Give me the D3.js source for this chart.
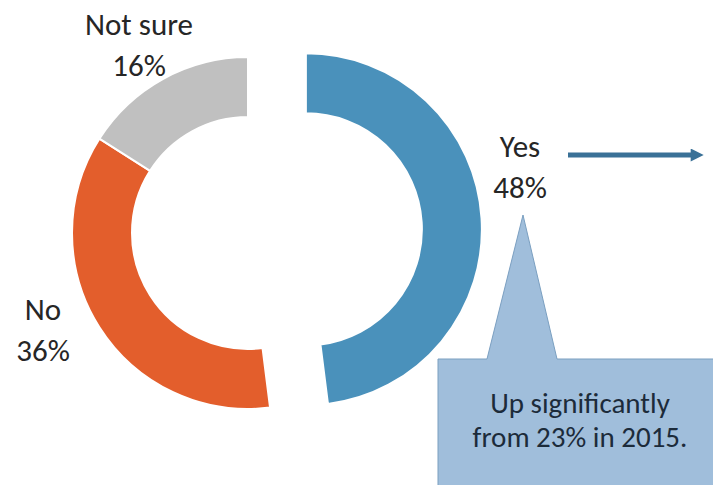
<!DOCTYPE html>
<html lang="en">
<head>
<meta charset="utf-8">
<title>Donut - Yes / No / Not sure</title>
<script src="https://d3js.org/d3.v7.min.js"></script>
<style>
  html, body { margin: 0; padding: 0; background: #fff; }
  svg text { font-family: Carlito, Lato, "Open Sans", sans-serif; }
</style>
</head>
<body>
<svg id="chart" width="713" height="485"></svg>
<script>
// data
var categories = ["Yes", "No", "Not sure"];
var values = [48, 36, 16];
var noteLines = ["Up significantly", "from 23% in 2015."];

var colors = { "Yes": "#4a91bb", "No": "#e35e2c", "Not sure": "#c0c0c0" };

var svg = d3.select("#chart"),
    cx = 248, cy = 233,
    outerR = 176, innerR = 116,
    explode = 58;

var pie = d3.pie().sort(null).value(function(d){ return d.v; });
var arcs = pie(categories.map(function(c, i){ return { k: c, v: values[i] }; }));
var arc = d3.arc().innerRadius(innerR).outerRadius(outerR);

// "Yes" slice pulled out along its mid angle
function offset(d) {
  if (d.data.k !== "Yes") return [0, 0];
  var a = (d.startAngle + d.endAngle) / 2;
  return [explode * Math.sin(a), -explode * Math.cos(a)];
}

var g = svg.append("g").attr("transform", "translate(" + cx + "," + cy + ")");

g.selectAll("path.slice")
  .data(arcs)
  .join("path")
    .attr("class", "slice")
    .attr("d", arc)
    .attr("fill", function(d){ return colors[d.data.k]; })
    .attr("stroke", "#fff")
    .attr("stroke-width", 2)
    .attr("transform", function(d){ var o = offset(d); return "translate(" + o[0] + "," + o[1] + ")"; });

// labels (positioned relative to the chart centre)
var labelPos = {
  "Yes": [272, -76],
  "No": [-205, 87],
  "Not sure": [-109, -198]
};
arcs.forEach(function(d){
  var p = labelPos[d.data.k];
  var t = g.append("text")
    .attr("x", p[0]).attr("y", p[1])
    .attr("text-anchor", "middle")
    .attr("fill", "#262626")
    .style("font-size", "31px");
  t.append("tspan").attr("x", p[0]).text(d.data.k);
  t.append("tspan").attr("x", p[0]).attr("dy", 41).text(d3.format("d")(d.data.v) + "%");
});

// arrow next to "Yes"
var defs = svg.append("defs");
defs.append("marker")
    .attr("id", "head")
    .attr("viewBox", "0 0 10 10")
    .attr("refX", 1).attr("refY", 5)
    .attr("markerWidth", 3).attr("markerHeight", 2.6)
    .attr("orient", "auto")
  .append("path")
    .attr("d", "M0,0 L10,5 L0,10 Z")
    .attr("fill", "#3a7197");

svg.append("line")
    .attr("x1", 568).attr("y1", 155)
    .attr("x2", 692).attr("y2", 155)
    .attr("stroke", "#3a7197")
    .attr("stroke-width", 5)
    .attr("marker-end", "url(#head)");

// callout box
var callout = svg.append("g");
callout.append("path")
    .attr("d", "M438,359 L487,359 L523,215 L557,359 L725,359 L725,495 L438,495 Z")
    .attr("fill", "#a0bedb")
    .attr("stroke", "#7a9fc0")
    .attr("stroke-width", 1);

var note = callout.append("text")
    .attr("text-anchor", "middle")
    .attr("fill", "#1c2b3a")
    .style("font-size", "29px");
noteLines.forEach(function(line, i){
  note.append("tspan").attr("x", 580).attr("y", 413 + i * 34).text(line);
});
</script>
</body>
</html>
